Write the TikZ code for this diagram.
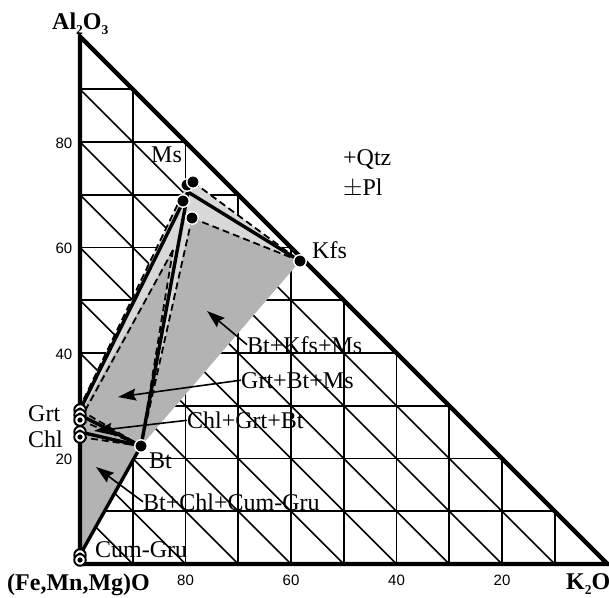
\documentclass[tikz,border=0pt]{standalone}
\usepackage{fontspec}
\setmainfont{Liberation Serif}
\newfontfamily\arialf{Liberation Sans}
\usetikzlibrary{arrows.meta}
\definecolor{lightfill}{RGB}{216,216,216}
\definecolor{darkfill}{RGB}{179,179,179}
\begin{document}
\begin{tikzpicture}[x=1pt,y=-1pt,
  gridline/.style={line width=1.6pt},
  border/.style={line width=4.4pt,line join=miter},
  tie/.style={line width=3.4pt,line cap=round},
  dashtie/.style={line width=1.8pt,dash pattern=on 7pt off 4pt},
  bdot/.style={circle,fill=black,draw=white,line width=1.4pt,minimum size=12.5pt,inner sep=0pt},
  rdot/.style={circle,fill=white,draw=black,line width=1.9pt,minimum size=11.5pt,inner sep=0pt,
    path picture={\fill[black] (path picture bounding box.center) circle[radius=2.6pt];}},
  lab/.style={font=\fontsize{24}{26}\selectfont,inner sep=0pt},
  blab/.style={font=\fontsize{24}{26}\selectfont\bfseries,inner sep=0pt},
  num/.style={font=\arialf\fontsize{15}{16}\selectfont,inner sep=0pt},
  arr/.style={line width=1.6pt,-{Stealth[length=18pt,width=12pt,inset=2.5pt]}}
]
\useasboundingbox (0,0) rectangle (609,597);
\def\ox{80}\def\oy{564}\def\s{5.275}
% grid
\foreach \k in {1,...,9}{
  \draw[gridline] (\ox,{\oy-10*\k*\s}) -- ({\ox+10*(10-\k)*\s},{\oy-10*\k*\s});
  \draw[gridline] ({\ox+10*\k*\s},\oy) -- ({\ox+10*\k*\s},{\oy-10*(10-\k)*\s});
  \draw[gridline] (\ox,{\oy-10*\k*\s}) -- ({\ox+10*\k*\s},\oy);
}
% phase points
\coordinate (MsA) at (193,182);
\coordinate (MsB) at (187,185);
\coordinate (MsC) at (183,201);
\coordinate (MsD) at (192,218);
\coordinate (MsJ) at (188,192);
\coordinate (Kfs) at (300,261);
\coordinate (Bt) at (141,446);
\coordinate (Apex) at (173,250);
\coordinate (Go) at (80,407);
\coordinate (G1) at (80,410);
\coordinate (G2) at (80,415);
\coordinate (G3) at (80,420);
\coordinate (C1) at (80,432);
\coordinate (C2) at (80,437);
\coordinate (U1) at (80,555);
\coordinate (U2) at (80,560);
% fills
\fill[lightfill] (MsA) -- (Kfs) -- (Bt) -- (U1) -- (Go) -- (MsB) -- cycle;
\fill[darkfill] (MsD) -- (Kfs) -- (Bt) -- cycle;
\fill[darkfill] (Apex) -- (Bt) -- (U1) -- (G2) -- cycle;
% dashed tie lines
\draw[dashtie] (MsB) -- (Go);
\draw[dashtie] (MsA) -- (Kfs);
\draw[dashtie] (MsD) -- (Kfs);
\draw[dashtie] (MsD) -- (Bt);
\draw[dashtie] (Apex) -- (Bt);
\draw[dashtie] (Apex) -- (G3);
\draw[dashtie] (G3) -- (Bt);
\draw[dashtie] (C2) -- (Bt);
\draw[dashtie] (G1) -- (Bt);
% solid tie lines
\draw[tie] (MsJ) -- (G1);
\draw[tie] (MsJ) -- (Kfs);
\draw[tie] (MsJ) -- (Bt);
\draw[tie] (Bt) -- (U1);
\draw[tie] (G2) -- (Bt);
\draw[tie] (C1) -- (Bt);
% triangle
\coordinate (TA) at (\ox,{\oy-100*\s});
\coordinate (TF) at (\ox,\oy);
\coordinate (TK) at ({\ox+100*\s},\oy);
\draw[border] (TA) -- (TF) -- (TK) -- cycle;
% dots
\node[bdot] (dMsB) at (MsB) {};
\node[bdot] (dMsA) at (MsA) {};
\node[bdot] (dMsC) at (MsC) {};
\node[bdot] (dMsD) at (MsD) {};
\node[bdot] (dKfs) at (Kfs) {};
\node[bdot] (dBt) at (Bt) {};
\node[rdot] (dG1) at (G1) {};
\node[rdot] (dG2) at (G2) {};
\node[rdot] (dG3) at (G3) {};
\node[rdot] (dC1) at (C1) {};
\node[rdot] (dC2) at (C2) {};
\node[rdot] (dU1) at (U1) {};
\node[rdot] (dU2) at (U2) {};
% labels
\node[blab,anchor=base west] (lAl) at (52,29.5) {Al\raisebox{-4.5pt}{\fontsize{13.5}{14}\selectfont 2}O\raisebox{-4.5pt}{\fontsize{13.5}{14}\selectfont 3}};
\node[blab,anchor=base west] (lFe) at (7,590) {(Fe,Mn,Mg)O};
\node[blab,anchor=base west] (lK) at (566,589.5) {K\raisebox{-4.5pt}{\fontsize{13.5}{14}\selectfont 2}O};
\node[lab,anchor=base west] (lMs) at (151,162) {Ms};
\node[lab,anchor=base west] (lQtz) at (343,165) {+Qtz};
\node[lab,anchor=base west] (lPl) at (343,195) {$\pm$Pl};
\node[lab,anchor=base west] (lKfs) at (312,258.5) {Kfs};
\node[lab,anchor=base west] (lBKM) at (247,353) {Bt+Kfs+Ms};
\node[lab,anchor=base west] (lGBM) at (241,388) {Grt+Bt+Ms};
\node[lab,anchor=base west] (lCGB) at (187,428.5) {Chl+Grt+Bt};
\node[lab,anchor=base west] (lGrt) at (28,421.5) {Grt};
\node[lab,anchor=base west] (lChl) at (28,447) {Chl};
\node[lab,anchor=base west] (lBt) at (149,468.5) {Bt};
\node[lab,anchor=base west] (lBCC) at (143,510) {Bt+Chl+Cum-Gru};
\node[lab,anchor=base west] (lCG) at (95,557) {Cum-Gru};
% axis numbers
\foreach \v/\n in {8/n8,6/n6,4/n4,2/n2}{
  \node[num,anchor=base east] (l\n) at (72.5,{\oy-10*\v*\s+6}) {\v0};
  \node[num,anchor=base] (b\n) at ({\ox+10*(10-\v)*\s},585) {\v0};
}
% arrows
\coordinate (tBKM) at (207,311);
\coordinate (tGBM) at (118,397);
\coordinate (tCGB) at (94,431);
\coordinate (tBCC) at (96,467);
\draw[arr] (lBKM.west) -- (tBKM);
\draw[arr] (lGBM.west) -- (tGBM);
\draw[arr] (lCGB.west) -- (tCGB);
\draw[arr] (lBCC.west) -- (tBCC);
\end{tikzpicture}
\end{document}
